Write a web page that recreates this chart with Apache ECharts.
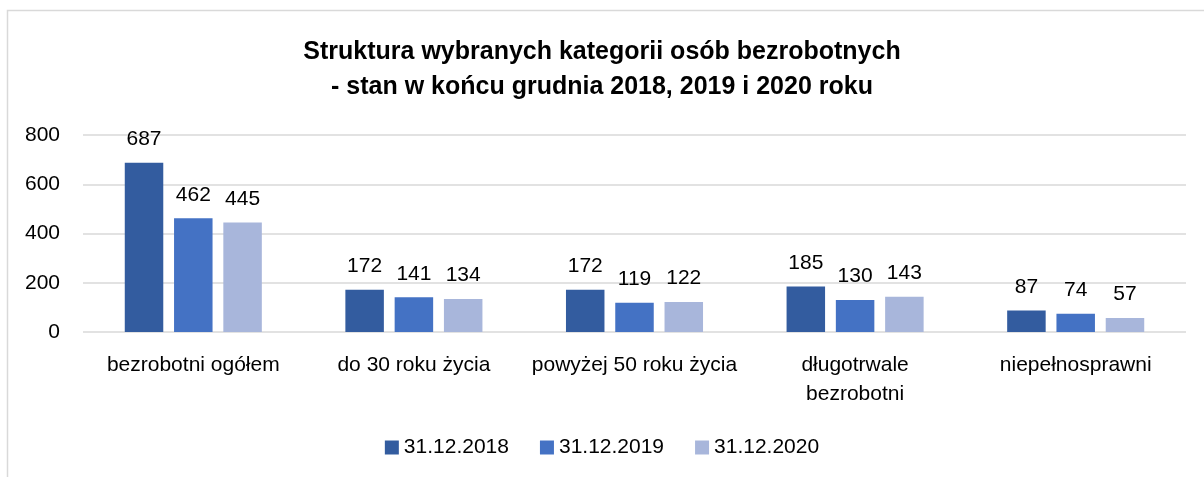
<!DOCTYPE html>
<html>
<head>
<meta charset="utf-8">
<script src="https://cdn.jsdelivr.net/npm/echarts@6/dist/echarts.min.js"></script>
<style>
  html, body { margin: 0; padding: 0; background: #fff; }
  #chart { width: 1204px; height: 477px; }
</style>
</head>
<body>
<div id="chart"></div>
<script>
let categories = ['bezrobotni ogółem', 'do 30 roku życia', 'powyżej 50 roku życia', 'długotrwale\nbezrobotni', 'niepełnosprawni']
let seriesNames = ['31.12.2018', '31.12.2019', '31.12.2020']
let values2018 = [687, 172, 172, 185, 87]
let values2019 = [462, 141, 119, 130, 74]
let values2020 = [445, 134, 122, 143, 57]
let colors = ['#335C9F', '#4472C4', '#A8B6DB']

let myChart = echarts.init(document.getElementById('chart'))
let font = 'Liberation Sans'

let makeSeries = (name, data, i) => ({
  name: name,
  type: 'bar',
  data: data,
  barWidth: 38.5,
  barGap: '28%',
  itemStyle: { color: colors[i] },
  label: {
    show: true,
    position: 'top',
    distance: 13,
    color: '#000',
    fontFamily: font,
    fontSize: 21
  }
})

let option = {
  animation: false,
  title: {
    text: 'Struktura wybranych kategorii osób bezrobotnych\n- stan w końcu grudnia 2018, 2019 i 2020 roku',
    left: 'center',
    top: 30,
    textStyle: {
      fontFamily: font,
      fontWeight: 'bold',
      fontSize: 25,
      lineHeight: 35,
      color: '#000'
    }
  },
  legend: {
    bottom: 14,
    left: 'center',
    itemWidth: 14,
    itemHeight: 14,
    itemGap: 31,
    icon: 'rect',
    textStyle: { fontFamily: font, fontSize: 21, color: '#000' },
    data: seriesNames
  },
  grid: { left: 83, right: 18, top: 135, bottom: 145, containLabel: false },
  xAxis: {
    type: 'category',
    data: categories,
    axisLine: { show: false },
    axisTick: { show: false },
    axisLabel: { fontFamily: font, fontSize: 21, color: '#000', margin: 19, lineHeight: 29, interval: 0 }
  },
  yAxis: {
    type: 'value',
    min: 0,
    max: 800,
    interval: 200,
    axisLine: { show: false },
    axisTick: { show: false },
    axisLabel: { fontFamily: font, fontSize: 21, color: '#000', margin: 23 },
    splitLine: { lineStyle: { color: '#d9d9d9', width: 1.5 } }
  },
  graphic: [{
    type: 'rect',
    shape: { x: 7.5, y: 10.5, width: 1220, height: 500 },
    style: { fill: 'none', stroke: '#d9d9d9', lineWidth: 1.5 },
    silent: true
  }],
  series: [
    makeSeries(seriesNames[0], values2018, 0),
    makeSeries(seriesNames[1], values2019, 1),
    makeSeries(seriesNames[2], values2020, 2)
  ]
}

myChart.setOption(option)
</script>
</body>
</html>
